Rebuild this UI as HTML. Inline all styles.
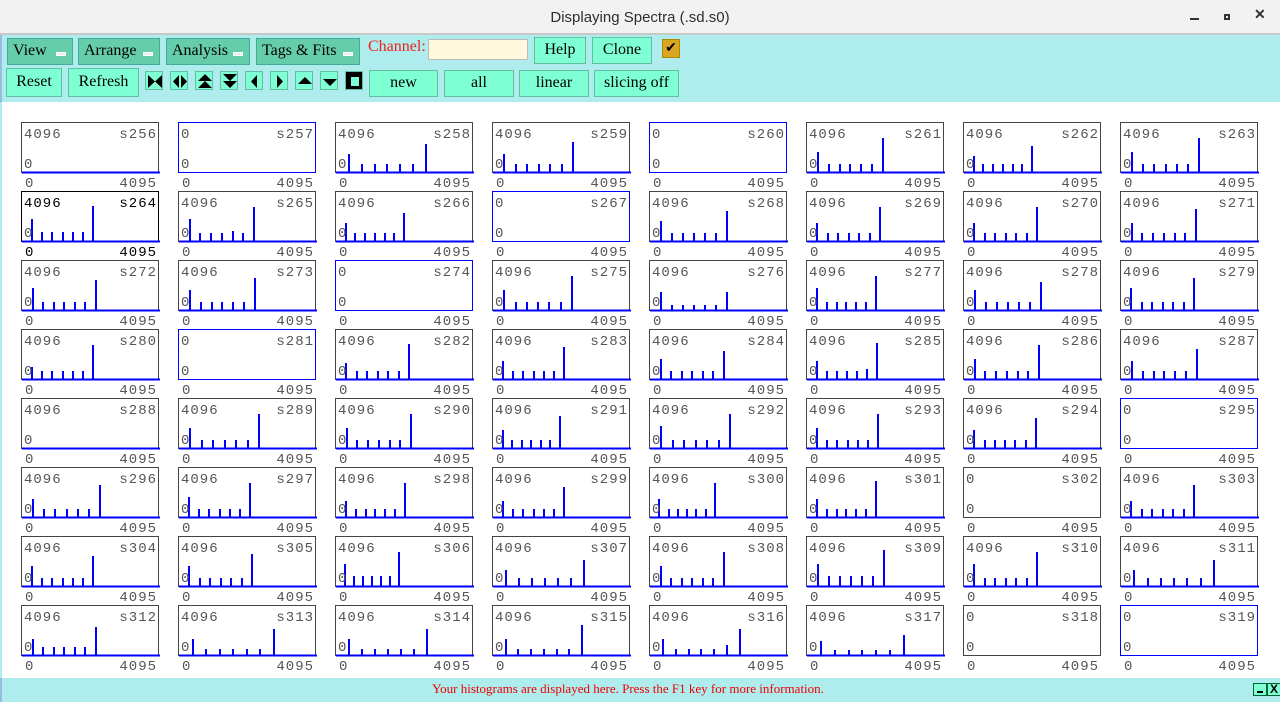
<!DOCTYPE html>
<html><head><meta charset="utf-8"><style>
*{margin:0;padding:0;box-sizing:border-box}
body{width:1280px;height:702px;position:relative;overflow:hidden;background:#fff;font-family:"Liberation Serif",serif}
.title{position:absolute;left:0;top:0;width:1280px;height:35px;background:#f2f2f2;border-bottom:2px solid #c8c8c8}
.title span{position:absolute;left:0;width:1280px;top:9px;text-align:center;font:15px "Liberation Sans",sans-serif;color:#2e2e2e}
.tb{position:absolute;left:0;top:35px;width:1280px;height:67px;background:#aeeced;border-left:2px solid #9bd}
.btn{position:absolute;height:27px;border:1px solid #5fbfa0;background:#7fffd4;font-size:16px;color:#000;text-align:center;line-height:24px}
.m{background:#66cdaa;text-align:left;padding-left:5px;border-color:#4a9}
.m i{position:absolute;right:6px;top:13px;width:10px;height:4px;background:#eee;border:1px solid #fff}
.ic{position:absolute;top:71px;width:18px;height:19px;background:#7fffd4;border:1px solid #5fbfa0}
.ic svg{position:absolute;left:1px;top:1px}
.w{position:absolute;left:0;top:102px;width:1280px;height:576px;background:#fff;border-left:2px solid #aeeced}
.p{position:absolute;width:138px;height:70px;font:14px "Liberation Mono",monospace;letter-spacing:1px;color:#555}
.bx{position:absolute;left:0;top:0;width:138px;height:51px;border:1px solid #444}
.bx.e{border-color:#00f}
.bx svg{position:absolute;left:0;top:0}
.t{position:absolute;left:3px;top:5px}
.n{position:absolute;right:2px;top:5px}
.z{position:absolute;left:3px;top:35px}
.a{position:absolute;left:4px;top:54px}
.b{position:absolute;right:2px;top:54px}
.st{position:absolute;left:0;top:678px;width:1280px;height:24px;background:#aeeced;border-left:2px solid #9bd}
.st span{position:absolute;left:0;width:1252px;text-align:center;top:3px;font-size:13px;color:#e00}
</style></head><body>
<div class="title"><span>Displaying Spectra (.sd.s0)</span>
<div style="position:absolute;left:1190px;top:18px;width:9px;height:2px;background:#333"></div>
<div style="position:absolute;left:1224px;top:14px;width:6px;height:6px;border:2px solid #333"></div>
<div style="position:absolute;left:1254px;top:6px;font:bold 14px 'Liberation Sans',sans-serif;color:#333">✕</div>
</div>
<div class="tb"></div>
<div class="btn m" style="left:7px;top:38px;width:66px">View<i></i></div>
<div class="btn m" style="left:78px;top:38px;width:82px">Arrange<i></i></div>
<div class="btn m" style="left:166px;top:38px;width:84px">Analysis<i></i></div>
<div class="btn m" style="left:256px;top:38px;width:104px">Tags &amp; Fits<i></i></div>
<div style="position:absolute;left:368px;top:38px;font-size:16px;color:#e22">Channel:</div>
<div style="position:absolute;left:428px;top:39px;width:100px;height:21px;background:#fff8dc;border:1px solid #bbb"></div>
<div class="btn" style="left:534px;top:37px;width:52px">Help</div>
<div class="btn" style="left:592px;top:37px;width:60px">Clone</div>
<div style="position:absolute;left:662px;top:39px;width:18px;height:19px;background:#daa520;border:1px solid #a80;font-size:14px;line-height:17px;text-align:center">✔</div>
<div class="btn" style="left:6px;top:68px;width:56px;height:29px;line-height:26px">Reset</div>
<div class="btn" style="left:68px;top:68px;width:71px;height:29px;line-height:26px">Refresh</div>
<div class="ic" style="left:145px"><svg width="16" height="17"><path d="M1 2L8 8.5L1 15ZM15 2L8 8.5L15 15Z"/></svg></div>
<div class="ic" style="left:170px"><svg width="16" height="17"><path d="M7 2L1 8.5L7 15ZM9 2L15 8.5L9 15Z"/></svg></div>
<div class="ic" style="left:195px"><svg width="16" height="17"><path d="M8 1L15 8H1ZM8 8L15 15H1Z"/></svg></div>
<div class="ic" style="left:220px"><svg width="16" height="17"><path d="M1 1H15L8 8ZM1 8H15L8 15Z"/></svg></div>
<div class="ic" style="left:245px"><svg width="16" height="17"><path d="M10 2L4 8.5L10 15Z"/></svg></div>
<div class="ic" style="left:270px"><svg width="16" height="17"><path d="M5 2L11 8.5L5 15Z"/></svg></div>
<div class="ic" style="left:295px"><svg width="16" height="17"><path d="M8 4L15 11H1Z"/></svg></div>
<div class="ic" style="left:320px"><svg width="16" height="17"><path d="M1 6H15L8 13Z"/></svg></div>
<div class="ic" style="left:345px;background:#000"><svg width="16" height="17"><rect x="4" y="4" width="8" height="9" fill="#7fffd4"/></svg></div>
<div class="btn" style="left:369px;top:70px;width:69px">new</div>
<div class="btn" style="left:444px;top:70px;width:70px">all</div>
<div class="btn" style="left:519px;top:70px;width:70px">linear</div>
<div class="btn" style="left:594px;top:70px;width:85px">slicing off</div>
<div class="w"></div>

<!-- row 1 -->
<div class="p" style="left:21px;top:122px"><div class="bx"><svg width="138" height="51"><path d="M0 49.5H138" stroke="#00f" stroke-width="2"/></svg></div><span class="t">4096</span><span class="n">s256</span><span class="z">0</span><span class="a">0</span><span class="b">4095</span></div>
<div class="p" style="left:178px;top:122px"><div class="bx e"></div><span class="t">0</span><span class="n">s257</span><span class="z">0</span><span class="a">0</span><span class="b">4095</span></div>
<div class="p" style="left:335px;top:122px"><div class="bx"><svg width="138" height="51"><path d="M0 49.5H138M13 49v-18M26 49v-8M39 49v-8M51 49v-8M64 49v-8M77 49v-8M90 49v-28" stroke="#00f" stroke-width="2"/></svg></div><span class="t">4096</span><span class="n">s258</span><span class="z">0</span><span class="a">0</span><span class="b">4095</span></div>
<div class="p" style="left:492px;top:122px"><div class="bx"><svg width="138" height="51"><path d="M0 49.5H138M11 49v-18M23 49v-8M34 49v-8M46 49v-8M57 49v-8M69 49v-8M80 49v-30" stroke="#00f" stroke-width="2"/></svg></div><span class="t">4096</span><span class="n">s259</span><span class="z">0</span><span class="a">0</span><span class="b">4095</span></div>
<div class="p" style="left:649px;top:122px"><div class="bx e"></div><span class="t">0</span><span class="n">s260</span><span class="z">0</span><span class="a">0</span><span class="b">4095</span></div>
<div class="p" style="left:806px;top:122px"><div class="bx"><svg width="138" height="51"><path d="M0 49.5H138M11 49v-20M22 49v-8M33 49v-8M43 49v-8M54 49v-8M65 49v-8M76 49v-34" stroke="#00f" stroke-width="2"/></svg></div><span class="t">4096</span><span class="n">s261</span><span class="z">0</span><span class="a">0</span><span class="b">4095</span></div>
<div class="p" style="left:963px;top:122px"><div class="bx"><svg width="138" height="51"><path d="M0 49.5H138M10 49v-16M19 49v-8M29 49v-8M39 49v-8M49 49v-8M58 49v-8M68 49v-26" stroke="#00f" stroke-width="2"/></svg></div><span class="t">4096</span><span class="n">s262</span><span class="z">0</span><span class="a">0</span><span class="b">4095</span></div>
<div class="p" style="left:1120px;top:122px"><div class="bx"><svg width="138" height="51"><path d="M0 49.5H138M11 49v-20M22 49v-8M33 49v-8M45 49v-8M56 49v-8M67 49v-8M78 49v-34" stroke="#00f" stroke-width="2"/></svg></div><span class="t">4096</span><span class="n">s263</span><span class="z">0</span><span class="a">0</span><span class="b">4095</span></div>
<!-- row 2 -->
<div class="p" style="left:21px;top:191px"><div class="bx" style="border-color:#000"><svg width="138" height="51"><path d="M0 49.5H138M10 49v-22M20 49v-9M30 49v-9M41 49v-9M51 49v-9M61 49v-9M71 49v-35" stroke="#00f" stroke-width="2"/></svg></div><span class="t" style="color:#000">4096</span><span class="n" style="color:#000">s264</span><span class="z">0</span><span class="a" style="color:#000">0</span><span class="b" style="color:#000">4095</span></div>
<div class="p" style="left:178px;top:191px"><div class="bx"><svg width="138" height="51"><path d="M0 49.5H138M11 49v-22M21 49v-8M32 49v-8M43 49v-8M54 49v-10M64 49v-8M75 49v-34" stroke="#00f" stroke-width="2"/></svg></div><span class="t">4096</span><span class="n">s265</span><span class="z">0</span><span class="a">0</span><span class="b">4095</span></div>
<div class="p" style="left:335px;top:191px"><div class="bx"><svg width="138" height="51"><path d="M0 49.5H138M10 49v-18M19 49v-8M29 49v-8M39 49v-8M49 49v-8M58 49v-8M68 49v-28" stroke="#00f" stroke-width="2"/></svg></div><span class="t">4096</span><span class="n">s266</span><span class="z">0</span><span class="a">0</span><span class="b">4095</span></div>
<div class="p" style="left:492px;top:191px"><div class="bx e"></div><span class="t">0</span><span class="n">s267</span><span class="z">0</span><span class="a">0</span><span class="b">4095</span></div>
<div class="p" style="left:649px;top:191px"><div class="bx"><svg width="138" height="51"><path d="M0 49.5H138M11 49v-20M22 49v-8M33 49v-8M44 49v-8M55 49v-8M66 49v-8M77 49v-30" stroke="#00f" stroke-width="2"/></svg></div><span class="t">4096</span><span class="n">s268</span><span class="z">0</span><span class="a">0</span><span class="b">4095</span></div>
<div class="p" style="left:806px;top:191px"><div class="bx"><svg width="138" height="51"><path d="M0 49.5H138M10 49v-18M21 49v-8M31 49v-8M42 49v-8M52 49v-8M63 49v-8M73 49v-34" stroke="#00f" stroke-width="2"/></svg></div><span class="t">4096</span><span class="n">s269</span><span class="z">0</span><span class="a">0</span><span class="b">4095</span></div>
<div class="p" style="left:963px;top:191px"><div class="bx"><svg width="138" height="51"><path d="M0 49.5H138M10 49v-18M21 49v-8M31 49v-8M42 49v-8M52 49v-8M63 49v-8M73 49v-34" stroke="#00f" stroke-width="2"/></svg></div><span class="t">4096</span><span class="n">s270</span><span class="z">0</span><span class="a">0</span><span class="b">4095</span></div>
<div class="p" style="left:1120px;top:191px"><div class="bx"><svg width="138" height="51"><path d="M0 49.5H138M11 49v-18M21 49v-8M32 49v-8M43 49v-8M54 49v-8M64 49v-8M75 49v-32" stroke="#00f" stroke-width="2"/></svg></div><span class="t">4096</span><span class="n">s271</span><span class="z">0</span><span class="a">0</span><span class="b">4095</span></div>
<!-- row 3 -->
<div class="p" style="left:21px;top:260px"><div class="bx"><svg width="138" height="51"><path d="M0 49.5H138M11 49v-22M21 49v-8M32 49v-8M42 49v-8M53 49v-8M63 49v-8M74 49v-30" stroke="#00f" stroke-width="2"/></svg></div><span class="t">4096</span><span class="n">s272</span><span class="z">0</span><span class="a">0</span><span class="b">4095</span></div>
<div class="p" style="left:178px;top:260px"><div class="bx"><svg width="138" height="51"><path d="M0 49.5H138M11 49v-20M22 49v-8M33 49v-8M43 49v-8M54 49v-8M65 49v-8M76 49v-32" stroke="#00f" stroke-width="2"/></svg></div><span class="t">4096</span><span class="n">s273</span><span class="z">0</span><span class="a">0</span><span class="b">4095</span></div>
<div class="p" style="left:335px;top:260px"><div class="bx e"></div><span class="t">0</span><span class="n">s274</span><span class="z">0</span><span class="a">0</span><span class="b">4095</span></div>
<div class="p" style="left:492px;top:260px"><div class="bx"><svg width="138" height="51"><path d="M0 49.5H138M11 49v-20M23 49v-8M34 49v-8M45 49v-8M56 49v-8M68 49v-8M79 49v-34" stroke="#00f" stroke-width="2"/></svg></div><span class="t">4096</span><span class="n">s275</span><span class="z">0</span><span class="a">0</span><span class="b">4095</span></div>
<div class="p" style="left:649px;top:260px"><div class="bx"><svg width="138" height="51"><path d="M0 49.5H138M11 49v-18M22 49v-5M33 49v-5M44 49v-5M55 49v-5M66 49v-5M77 49v-18" stroke="#00f" stroke-width="2"/></svg></div><span class="t">4096</span><span class="n">s276</span><span class="z">0</span><span class="a">0</span><span class="b">4095</span></div>
<div class="p" style="left:806px;top:260px"><div class="bx"><svg width="138" height="51"><path d="M0 49.5H138M10 49v-22M20 49v-8M30 49v-8M39 49v-8M49 49v-8M59 49v-8M69 49v-34" stroke="#00f" stroke-width="2"/></svg></div><span class="t">4096</span><span class="n">s277</span><span class="z">0</span><span class="a">0</span><span class="b">4095</span></div>
<div class="p" style="left:963px;top:260px"><div class="bx"><svg width="138" height="51"><path d="M0 49.5H138M11 49v-20M22 49v-8M33 49v-8M44 49v-8M55 49v-8M66 49v-8M77 49v-28" stroke="#00f" stroke-width="2"/></svg></div><span class="t">4096</span><span class="n">s278</span><span class="z">0</span><span class="a">0</span><span class="b">4095</span></div>
<div class="p" style="left:1120px;top:260px"><div class="bx"><svg width="138" height="51"><path d="M0 49.5H138M10 49v-22M21 49v-8M31 49v-8M42 49v-8M52 49v-8M63 49v-8M73 49v-32" stroke="#00f" stroke-width="2"/></svg></div><span class="t">4096</span><span class="n">s279</span><span class="z">0</span><span class="a">0</span><span class="b">4095</span></div>
<!-- row 4 -->
<div class="p" style="left:21px;top:329px"><div class="bx"><svg width="138" height="51"><path d="M0 49.5H138M10 49v-12M20 49v-8M30 49v-8M41 49v-8M51 49v-8M61 49v-8M71 49v-34" stroke="#00f" stroke-width="2"/></svg></div><span class="t">4096</span><span class="n">s280</span><span class="z">0</span><span class="a">0</span><span class="b">4095</span></div>
<div class="p" style="left:178px;top:329px"><div class="bx e"></div><span class="t">0</span><span class="n">s281</span><span class="z">0</span><span class="a">0</span><span class="b">4095</span></div>
<div class="p" style="left:335px;top:329px"><div class="bx"><svg width="138" height="51"><path d="M0 49.5H138M10 49v-16M21 49v-8M31 49v-8M42 49v-8M52 49v-8M63 49v-8M73 49v-35" stroke="#00f" stroke-width="2"/></svg></div><span class="t">4096</span><span class="n">s282</span><span class="z">0</span><span class="a">0</span><span class="b">4095</span></div>
<div class="p" style="left:492px;top:329px"><div class="bx"><svg width="138" height="51"><path d="M0 49.5H138M10 49v-18M20 49v-8M30 49v-8M41 49v-8M51 49v-8M61 49v-8M71 49v-32" stroke="#00f" stroke-width="2"/></svg></div><span class="t">4096</span><span class="n">s283</span><span class="z">0</span><span class="a">0</span><span class="b">4095</span></div>
<div class="p" style="left:649px;top:329px"><div class="bx"><svg width="138" height="51"><path d="M0 49.5H138M11 49v-20M21 49v-8M32 49v-8M42 49v-8M53 49v-8M63 49v-8M74 49v-28" stroke="#00f" stroke-width="2"/></svg></div><span class="t">4096</span><span class="n">s284</span><span class="z">0</span><span class="a">0</span><span class="b">4095</span></div>
<div class="p" style="left:806px;top:329px"><div class="bx"><svg width="138" height="51"><path d="M0 49.5H138M10 49v-18M20 49v-8M30 49v-8M40 49v-8M50 49v-8M60 49v-10M70 49v-36" stroke="#00f" stroke-width="2"/></svg></div><span class="t">4096</span><span class="n">s285</span><span class="z">0</span><span class="a">0</span><span class="b">4095</span></div>
<div class="p" style="left:963px;top:329px"><div class="bx"><svg width="138" height="51"><path d="M0 49.5H138M11 49v-20M21 49v-8M32 49v-8M43 49v-8M54 49v-8M64 49v-8M75 49v-34" stroke="#00f" stroke-width="2"/></svg></div><span class="t">4096</span><span class="n">s286</span><span class="z">0</span><span class="a">0</span><span class="b">4095</span></div>
<div class="p" style="left:1120px;top:329px"><div class="bx"><svg width="138" height="51"><path d="M0 49.5H138M11 49v-18M22 49v-8M33 49v-8M43 49v-8M54 49v-8M65 49v-8M76 49v-30" stroke="#00f" stroke-width="2"/></svg></div><span class="t">4096</span><span class="n">s287</span><span class="z">0</span><span class="a">0</span><span class="b">4095</span></div>
<!-- row 5 -->
<div class="p" style="left:21px;top:398px"><div class="bx"><svg width="138" height="51"><path d="M0 49.5H138" stroke="#00f" stroke-width="2"/></svg></div><span class="t">4096</span><span class="n">s288</span><span class="z">0</span><span class="a">0</span><span class="b">4095</span></div>
<div class="p" style="left:178px;top:398px"><div class="bx"><svg width="138" height="51"><path d="M0 49.5H138M11 49v-20M23 49v-8M34 49v-8M46 49v-8M57 49v-8M69 49v-8M80 49v-34" stroke="#00f" stroke-width="2"/></svg></div><span class="t">4096</span><span class="n">s289</span><span class="z">0</span><span class="a">0</span><span class="b">4095</span></div>
<div class="p" style="left:335px;top:398px"><div class="bx"><svg width="138" height="51"><path d="M0 49.5H138M11 49v-20M21 49v-8M32 49v-8M43 49v-8M54 49v-8M64 49v-8M75 49v-34" stroke="#00f" stroke-width="2"/></svg></div><span class="t">4096</span><span class="n">s290</span><span class="z">0</span><span class="a">0</span><span class="b">4095</span></div>
<div class="p" style="left:492px;top:398px"><div class="bx"><svg width="138" height="51"><path d="M0 49.5H138M10 49v-18M19 49v-8M29 49v-8M38 49v-8M48 49v-8M57 49v-8M67 49v-32" stroke="#00f" stroke-width="2"/></svg></div><span class="t">4096</span><span class="n">s291</span><span class="z">0</span><span class="a">0</span><span class="b">4095</span></div>
<div class="p" style="left:649px;top:398px"><div class="bx"><svg width="138" height="51"><path d="M0 49.5H138M11 49v-22M23 49v-8M34 49v-8M46 49v-8M57 49v-8M69 49v-8M80 49v-34" stroke="#00f" stroke-width="2"/></svg></div><span class="t">4096</span><span class="n">s292</span><span class="z">0</span><span class="a">0</span><span class="b">4095</span></div>
<div class="p" style="left:806px;top:398px"><div class="bx"><svg width="138" height="51"><path d="M0 49.5H138M10 49v-20M20 49v-8M30 49v-8M41 49v-8M51 49v-8M61 49v-8M71 49v-34" stroke="#00f" stroke-width="2"/></svg></div><span class="t">4096</span><span class="n">s293</span><span class="z">0</span><span class="a">0</span><span class="b">4095</span></div>
<div class="p" style="left:963px;top:398px"><div class="bx"><svg width="138" height="51"><path d="M0 49.5H138M10 49v-18M21 49v-8M31 49v-8M41 49v-8M51 49v-8M62 49v-8M72 49v-30" stroke="#00f" stroke-width="2"/></svg></div><span class="t">4096</span><span class="n">s294</span><span class="z">0</span><span class="a">0</span><span class="b">4095</span></div>
<div class="p" style="left:1120px;top:398px"><div class="bx e"></div><span class="t">0</span><span class="n">s295</span><span class="z">0</span><span class="a">0</span><span class="b">4095</span></div>
<!-- row 6 -->
<div class="p" style="left:21px;top:467px"><div class="bx"><svg width="138" height="51"><path d="M0 49.5H138M11 49v-18M22 49v-8M33 49v-8M45 49v-8M56 49v-8M67 49v-8M78 49v-32" stroke="#00f" stroke-width="2"/></svg></div><span class="t">4096</span><span class="n">s296</span><span class="z">0</span><span class="a">0</span><span class="b">4095</span></div>
<div class="p" style="left:178px;top:467px"><div class="bx"><svg width="138" height="51"><path d="M0 49.5H138M10 49v-20M20 49v-8M30 49v-8M41 49v-8M51 49v-8M61 49v-8M71 49v-34" stroke="#00f" stroke-width="2"/></svg></div><span class="t">4096</span><span class="n">s297</span><span class="z">0</span><span class="a">0</span><span class="b">4095</span></div>
<div class="p" style="left:335px;top:467px"><div class="bx"><svg width="138" height="51"><path d="M0 49.5H138M10 49v-16M20 49v-8M30 49v-8M39 49v-8M49 49v-8M59 49v-8M69 49v-34" stroke="#00f" stroke-width="2"/></svg></div><span class="t">4096</span><span class="n">s298</span><span class="z">0</span><span class="a">0</span><span class="b">4095</span></div>
<div class="p" style="left:492px;top:467px"><div class="bx"><svg width="138" height="51"><path d="M0 49.5H138M10 49v-16M20 49v-8M30 49v-8M41 49v-8M51 49v-8M61 49v-8M71 49v-30" stroke="#00f" stroke-width="2"/></svg></div><span class="t">4096</span><span class="n">s299</span><span class="z">0</span><span class="a">0</span><span class="b">4095</span></div>
<div class="p" style="left:649px;top:467px"><div class="bx"><svg width="138" height="51"><path d="M0 49.5H138M9 49v-18M19 49v-8M28 49v-8M37 49v-8M46 49v-8M56 49v-8M65 49v-34" stroke="#00f" stroke-width="2"/></svg></div><span class="t">4096</span><span class="n">s300</span><span class="z">0</span><span class="a">0</span><span class="b">4095</span></div>
<div class="p" style="left:806px;top:467px"><div class="bx"><svg width="138" height="51"><path d="M0 49.5H138M10 49v-18M20 49v-8M30 49v-8M39 49v-8M49 49v-8M59 49v-8M69 49v-36" stroke="#00f" stroke-width="2"/></svg></div><span class="t">4096</span><span class="n">s301</span><span class="z">0</span><span class="a">0</span><span class="b">4095</span></div>
<div class="p" style="left:963px;top:467px"><div class="bx"></div><span class="t">0</span><span class="n">s302</span><span class="z">0</span><span class="a">0</span><span class="b">4095</span></div>
<div class="p" style="left:1120px;top:467px"><div class="bx"><svg width="138" height="51"><path d="M0 49.5H138M10 49v-16M21 49v-8M31 49v-8M42 49v-8M52 49v-8M63 49v-8M73 49v-32" stroke="#00f" stroke-width="2"/></svg></div><span class="t">4096</span><span class="n">s303</span><span class="z">0</span><span class="a">0</span><span class="b">4095</span></div>
<!-- row 7 -->
<div class="p" style="left:21px;top:536px"><div class="bx"><svg width="138" height="51"><path d="M0 49.5H138M10 49v-20M20 49v-8M30 49v-8M41 49v-8M51 49v-8M61 49v-8M71 49v-30" stroke="#00f" stroke-width="2"/></svg></div><span class="t">4096</span><span class="n">s304</span><span class="z">0</span><span class="a">0</span><span class="b">4095</span></div>
<div class="p" style="left:178px;top:536px"><div class="bx"><svg width="138" height="51"><path d="M0 49.5H138M10 49v-20M21 49v-8M31 49v-8M42 49v-8M52 49v-8M63 49v-8M73 49v-32" stroke="#00f" stroke-width="2"/></svg></div><span class="t">4096</span><span class="n">s305</span><span class="z">0</span><span class="a">0</span><span class="b">4095</span></div>
<div class="p" style="left:335px;top:536px"><div class="bx"><svg width="138" height="51"><path d="M0 49.5H138M9 49v-22M18 49v-10M27 49v-10M36 49v-10M45 49v-10M54 49v-10M63 49v-34" stroke="#00f" stroke-width="2"/></svg></div><span class="t">4096</span><span class="n">s306</span><span class="z">0</span><span class="a">0</span><span class="b">4095</span></div>
<div class="p" style="left:492px;top:536px"><div class="bx"><svg width="138" height="51"><path d="M0 49.5H138M13 49v-16M26 49v-8M39 49v-8M52 49v-8M65 49v-8M78 49v-8M91 49v-26" stroke="#00f" stroke-width="2"/></svg></div><span class="t">4096</span><span class="n">s307</span><span class="z">0</span><span class="a">0</span><span class="b">4095</span></div>
<div class="p" style="left:649px;top:536px"><div class="bx"><svg width="138" height="51"><path d="M0 49.5H138M11 49v-20M21 49v-8M32 49v-8M42 49v-8M53 49v-8M63 49v-8M74 49v-34" stroke="#00f" stroke-width="2"/></svg></div><span class="t">4096</span><span class="n">s308</span><span class="z">0</span><span class="a">0</span><span class="b">4095</span></div>
<div class="p" style="left:806px;top:536px"><div class="bx"><svg width="138" height="51"><path d="M0 49.5H138M11 49v-22M22 49v-10M33 49v-10M44 49v-10M55 49v-10M66 49v-10M77 49v-36" stroke="#00f" stroke-width="2"/></svg></div><span class="t">4096</span><span class="n">s309</span><span class="z">0</span><span class="a">0</span><span class="b">4095</span></div>
<div class="p" style="left:963px;top:536px"><div class="bx"><svg width="138" height="51"><path d="M0 49.5H138M10 49v-22M21 49v-8M31 49v-8M42 49v-8M52 49v-8M63 49v-8M73 49v-34" stroke="#00f" stroke-width="2"/></svg></div><span class="t">4096</span><span class="n">s310</span><span class="z">0</span><span class="a">0</span><span class="b">4095</span></div>
<div class="p" style="left:1120px;top:536px"><div class="bx"><svg width="138" height="51"><path d="M0 49.5H138M13 49v-16M27 49v-8M40 49v-8M53 49v-8M66 49v-8M80 49v-8M93 49v-26" stroke="#00f" stroke-width="2"/></svg></div><span class="t">4096</span><span class="n">s311</span><span class="z">0</span><span class="a">0</span><span class="b">4095</span></div>
<!-- row 8 -->
<div class="p" style="left:21px;top:605px"><div class="bx"><svg width="138" height="51"><path d="M0 49.5H138M11 49v-16M21 49v-8M32 49v-8M42 49v-8M53 49v-8M63 49v-8M74 49v-28" stroke="#00f" stroke-width="2"/></svg></div><span class="t">4096</span><span class="n">s312</span><span class="z">0</span><span class="a">0</span><span class="b">4095</span></div>
<div class="p" style="left:178px;top:605px"><div class="bx"><svg width="138" height="51"><path d="M0 49.5H138M14 49v-16M27 49v-6M41 49v-6M54 49v-6M68 49v-6M81 49v-6M95 49v-26" stroke="#00f" stroke-width="2"/></svg></div><span class="t">4096</span><span class="n">s313</span><span class="z">0</span><span class="a">0</span><span class="b">4095</span></div>
<div class="p" style="left:335px;top:605px"><div class="bx"><svg width="138" height="51"><path d="M0 49.5H138M13 49v-16M26 49v-6M39 49v-6M52 49v-6M65 49v-6M78 49v-6M91 49v-26" stroke="#00f" stroke-width="2"/></svg></div><span class="t">4096</span><span class="n">s314</span><span class="z">0</span><span class="a">0</span><span class="b">4095</span></div>
<div class="p" style="left:492px;top:605px"><div class="bx"><svg width="138" height="51"><path d="M0 49.5H138M13 49v-16M25 49v-6M38 49v-6M51 49v-6M64 49v-6M76 49v-6M89 49v-30" stroke="#00f" stroke-width="2"/></svg></div><span class="t">4096</span><span class="n">s315</span><span class="z">0</span><span class="a">0</span><span class="b">4095</span></div>
<div class="p" style="left:649px;top:605px"><div class="bx"><svg width="138" height="51"><path d="M0 49.5H138M13 49v-16M26 49v-6M39 49v-6M51 49v-6M64 49v-6M77 49v-10M90 49v-26" stroke="#00f" stroke-width="2"/></svg></div><span class="t">4096</span><span class="n">s316</span><span class="z">0</span><span class="a">0</span><span class="b">4095</span></div>
<div class="p" style="left:806px;top:605px"><div class="bx"><svg width="138" height="51"><path d="M0 49.5H138M14 49v-14M28 49v-5M42 49v-5M55 49v-5M69 49v-5M83 49v-5M97 49v-20" stroke="#00f" stroke-width="2"/></svg></div><span class="t">4096</span><span class="n">s317</span><span class="z">0</span><span class="a">0</span><span class="b">4095</span></div>
<div class="p" style="left:963px;top:605px"><div class="bx"></div><span class="t">0</span><span class="n">s318</span><span class="z">0</span><span class="a">0</span><span class="b">4095</span></div>
<div class="p" style="left:1120px;top:605px"><div class="bx e"></div><span class="t">0</span><span class="n">s319</span><span class="z">0</span><span class="a">0</span><span class="b">4095</span></div>

<div class="st"><span>Your histograms are displayed here. Press the F1 key for more information.</span>
<div style="position:absolute;left:1251px;top:5px;width:14px;height:13px;background:#7fffd4;border:1px solid #063"><div style="position:absolute;left:3px;top:7px;width:6px;height:2px;background:#000"></div></div>
<div style="position:absolute;left:1265px;top:5px;width:14px;height:13px;background:#7fffd4;border:1px solid #063;font:bold 12px 'Liberation Sans',sans-serif;line-height:11px;text-align:center">X</div>
</div>
</body></html>
